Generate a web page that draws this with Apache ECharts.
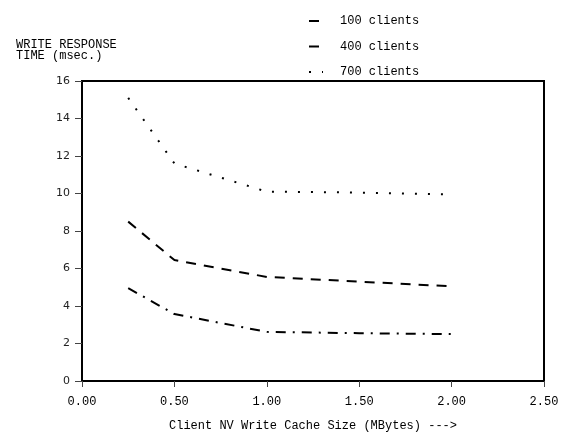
<!DOCTYPE html>
<html><head><meta charset="utf-8">
<script src="https://cdn.jsdelivr.net/npm/echarts@6/dist/echarts.min.js"></script>
<style>html,body{margin:0;padding:0;background:#fff}#c{width:561px;height:433px}</style>
</head><body><div id="c"></div>
<script>
var cacheSizes = [0.25, 0.5, 1.0, 1.5, 2.0];
var clients100 = [4.95, 3.57, 2.62, 2.55, 2.5];
var clients400 = [8.5, 6.45, 5.55, 5.3, 5.05];
var clients700 = [15.1, 11.6, 10.1, 10.05, 9.95];
var seriesNames = ['100 clients', '400 clients', '700 clients'];
var yTicks = [0, 2, 4, 6, 8, 10, 12, 14, 16];
var xTicks = [0, 0.5, 1.0, 1.5, 2.0, 2.5];

function pairs(ys){ return cacheSizes.map(function(x,i){ return [x, ys[i]]; }); }
var mono = '"Liberation Mono", "DejaVu Sans Mono", monospace';
var dashes = [[10,7,2,7],[10,8],[2,11]];
var vals = [clients100, clients400, clients700];

var chart = echarts.init(document.getElementById('c'), null, {renderer:'canvas'});
chart.setOption({
  animation:false,
  backgroundColor:'#fff',
  title:{text:'WRITE RESPONSE\nTIME (msec.)', left:11, top:34,
    textStyle:{fontFamily:mono, fontSize:12, fontWeight:'normal', color:'#000', lineHeight:11}},
  legend:{orient:'vertical', left:303, top:10, itemWidth:14, itemHeight:14, itemGap:13.5,
    data:seriesNames, itemStyle:{color:'transparent', borderWidth:0, opacity:0},
    textStyle:{fontFamily:mono, fontSize:12, color:'#000', padding:[0,0,0,12]}},
  grid:{left:82, right:17, top:81, bottom:52, show:true, borderColor:'#000', borderWidth:2,
    containLabel:false, outerBoundsMode:'none'},
  xAxis:{type:'value', min:0, max:2.5, interval:0.5,
    name:'Client NV Write Cache Size (MBytes) --->', nameLocation:'middle', nameGap:39,
    nameTextStyle:{fontFamily:mono, fontSize:12, color:'#000'},
    axisLine:{lineStyle:{color:'#000', width:2}},
    axisTick:{show:true, length:6, lineStyle:{color:'#444'}},
    splitLine:{show:false},
    axisLabel:{fontFamily:mono, fontSize:12, color:'#000', margin:15,
      formatter:function(v){ return v.toFixed(2); }}},
  yAxis:{type:'value', min:0, max:16, interval:2,
    axisLine:{show:true, lineStyle:{color:'#000', width:2}},
    axisTick:{show:true, length:7, lineStyle:{color:'#444'}},
    splitLine:{show:false},
    axisLabel:{fontFamily:'"DejaVu Sans", sans-serif', fontSize:11, color:'#222', margin:12}},
  series: seriesNames.map(function(n,i){
    return {name:n, type:'line', data:pairs(vals[i]), symbol:'none', showSymbol:false,
      lineStyle:{color:'#000', width:2, type:dashes[i]}, itemStyle:{color:'#000'}};
  })
});
</script></body></html>
